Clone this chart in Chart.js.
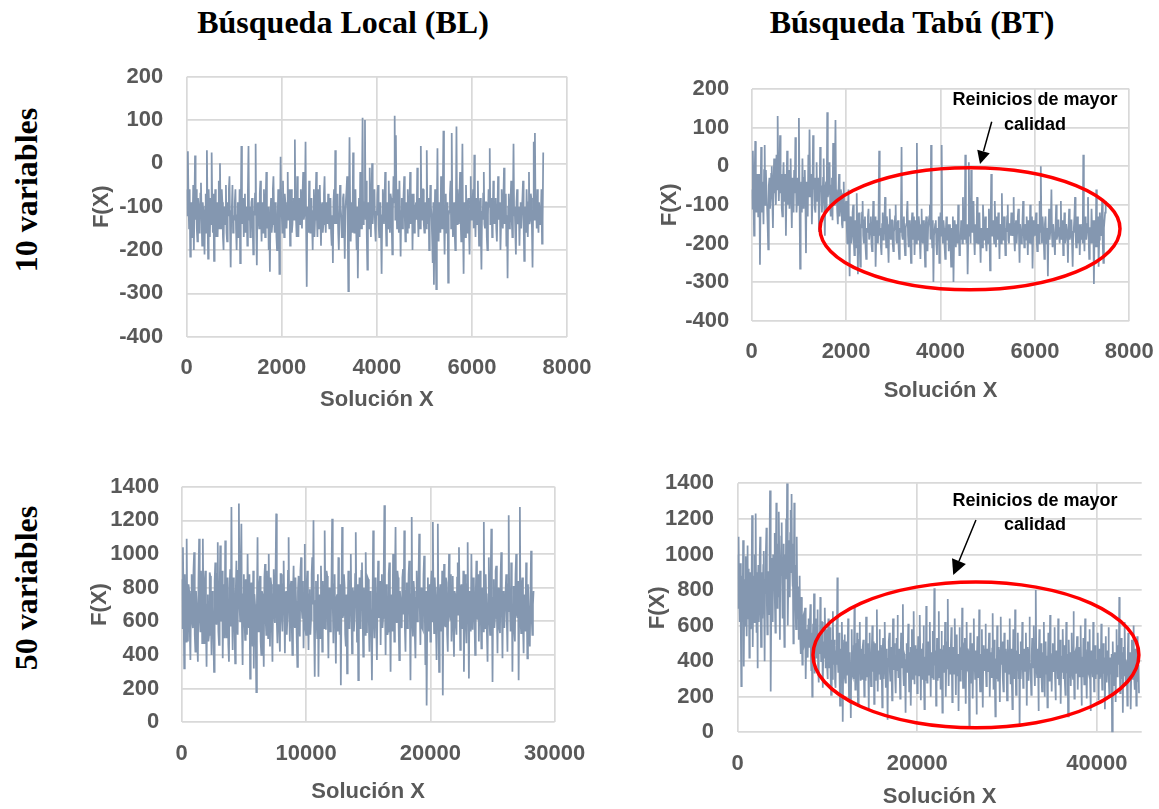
<!DOCTYPE html>
<html>
<head>
<meta charset="utf-8">
<script src="https://cdn.jsdelivr.net/npm/chart.js"></script>
<style>
  html, body { margin: 0; padding: 0; background: #fff; }
  body { position: relative; width: 1159px; height: 809px; overflow: hidden; }
  canvas { position: absolute; }
  .head { position: absolute; width: 400px; text-align: center; font: bold 32px/32px "Liberation Serif", "Times New Roman", serif; color: #000; white-space: nowrap; }
  .row { position: absolute; width: 220px; height: 32px; text-align: center; font: bold 32px/32px "Liberation Serif", "Times New Roman", serif; color: #000; white-space: nowrap; transform: rotate(-90deg); transform-origin: 50% 50%; }
</style>
</head>
<body>
<div class="head" style="left:143px; top:6px;">Búsqueda Local (BL)</div>
<div class="head" style="left:712px; top:6px;">Búsqueda Tabú (BT)</div>
<div class="row" style="left:-84px; top:174px;">10 variables</div>
<div class="row" style="left:-84px; top:572px;">50 variables</div>

<canvas id="bl10" width="530" height="370" style="left:70px; top:50px;"></canvas>
<canvas id="bt10" width="529" height="370" style="left:630px; top:50px;"></canvas>
<canvas id="bl50" width="530" height="359" style="left:70px; top:450px;"></canvas>
<canvas id="bt50" width="529" height="362" style="left:630px; top:450px;"></canvas>

<script>
// F(X) of each visited solution. Consecutive entries are STEP solutions apart.
const BL10_STEP = 12.5;
const bl10 = [
  -60,-120, 28,-90, -150,-60, -215,-140, -90,-170, -130,-50, -200,-110, 18,-130, -60,-150, -180,-80, -100,-160, -140,-70, -45,-120, -190,-90, -110,-150, -210,-100, -70,-160, 30,-110, -220,-60, -120,-170,
  -80,-140, 25,-100, -160,-70, -225,-130, -60,-170, -130,-90, -170,-110, -40,-150, 0,-120, -150,-60, -90,-170, -200,-100, -110,-140, -50,-160, -180,-90, -120,-60, -30,-150, -240,-110, -100,-50, -160,-120,
  -130,-90, -60,-150, -200,-120, -90,-170, -150,-60, -230,-110, 40,-140, -120,-80, -170,-130, -70,-160, -140,-100, -190,-60, 40,-130, -100,-170, -160,-90, -80,-140, -210,-110, -120,-70, 45,-150, -235,-100,
  -90,-130, -150,-70, -40,-120, -180,-90, -110,-160, -60,-130, -170,-80, -20,-150, -130,-100, -200,-140, -250,-110, -80,-160, -140,-60, -30,-120, -160,-90, -100,-170, -200,-130, -60,-100, -255,-140, 15,-80,
  -120,-160, -40,-110, -170,-70, -90,-140, -150,-100, -20,-130, -110,-60, -190,-120, -60,-160, -140,-90, -80,-130, 55,-100, -130,-170, -30,-110, -170,-80, -100,-140, -60,-120, -150,-70, -20,-130, -120,-90,
  50,-150, -285,-100, -120,-160, -40,-130, -160,-90, -80,-140, -200,-110, -60,-170, -130,-80, -20,-120, -170,-60, -110,-150, -50,-130, -190,-100, -90,-160, -140,-70, -30,-120, -160,-90, -100,-140, -70,-130,
  -150,-100, -80,-160, -190,-120, -230,-90, -60,-140, 30,-110, -140,-70, -100,-160, -200,-130, -50,-100, -120,-170, -170,-80, -70,-140, -220,-110, -110,-60, -30,-150, -295,-120, 60,-90, -180,-130, -90,-160,
  25,-120, -160,-80, -60,-140, -200,-100, -265,-130, -80,-170, -20,-110, -150,-60, 105,-140, -120,-90, 100,-130, -40,-160, -245,-100, -90,-150, -10,-120, -170,-70, 0,-140, -110,-80, -60,-150, -180,-110,
  -120,-70, -50,-140, -170,-100, -90,-160, -255,-120, -60,-110, -140,-80, -20,-130, -190,-90, -100,-150, -40,-120, -160,-70, -80,-140, -210,-110, -30,-90, 110,-130, 65,-100, -150,-60, -100,-160, -40,-120,
  -215,-110, -80,-150, -130,-70, -30,-120, -180,-90, -100,-160, -60,-130, -150,-90, -20,-140, -120,-70, -200,-110, -70,-160, -140,-100, -90,-130, -10,-120, -170,-80, -110,-150, 40,-100, -130,-60, -60,-140,
  -160,-110, -90,-150, 30,-120, -140,-80, -200,-130, -50,-100, -120,-170, -230,-90, -280,-140, -60,-180, -290,-110, 35,-150, -180,-90, -100,-160, -30,-120, -150,-70, 75,-130, -210,-100, -70,-160, -130,-90,
  -275,-120, -110,-70, -40,-150, 70,-100, -170,-130, -90,-160, -200,-110, 85,-140, -60,-120, -140,-80, -20,-130, -180,-100, 45,-150, -255,-90, -100,-170, -50,-120, -160,-90, -80,-150, -210,-110, -30,-130,
  -120,-90, -60,-150, 20,-110, -170,-80, -100,-140, -40,-120, -190,-100, -80,-160, -245,-110, -130,-70, -20,-140, -150,-90, -90,-170, -200,-120, -60,-100, 35,-140, -110,-80, -170,-130, -40,-110, -140,-90,
  -80,-150, -180,-110, -30,-130, -120,-90, -200,-140, -60,-120, -150,-80, -10,-140, -110,-70, -190,-120, -265,-100, -70,-150, -140,-90, -40,-130, -170,-100, 45,-120, -100,-160, -210,-90, -60,-140, -130,-100,
  -190,-120, -90,-150, -150,-80, -40,-130, -225,-100, -110,-160, -60,-120, -170,-90, -20,-140, -130,-70, -80,-150, -240,-110, 50,-130, 70,-100, -100,-150, -60,-120, -160,-90, -90,-140, -120,-60, -185,-130,
  25
];

const BT10_STEP = 12.5;
const bt10 = [
  -60,-110, 40,-70, -180,-30, 65,-90, -120,-40, -20,-130, -90,-20, -255,-80, 50,-120, -40,-70, -150,-10, 55,-100, -10,-60, -100,-150, -215,-50, -30,-110, -80,-20, 0,-90, -160,-40, 20,-70,
  -50,-100, 30,-60, 130,-20, -90,-30, 80,-70, -20,-110, -130,-40, 10,-90, -70,-20, -180,-60, 40,-100, -40,-10, -110,-50, 20,-80, -160,-30, -60,-120, -10,-70, 75,-40, -120,-80, -30,-100,
  125,-60, -265,-100, -40,-120, 20,-70, -110,-30, -10,-90, -225,-40, -60,-130, 30,-80, 95,-50, -80,-20, -150,-90, 80,-60, -30,-110, -120,-50, 10,-90, -70,-30, -170,-100, 50,-60, -50,-120,
  -90,-30, 20,-110, -180,-60, -40,-120, 140,-80, -70,-20, 10,-100, -130,-50, -30,-140, 60,-70, -100,-30, 120,-90, -60,-120, -150,-70, -20,-130, -110,-60, -70,-150, -160,-90, -40,-140, -130,-100,
  -90,-150, -200,-110, -60,-170, -285,-130, -140,-200, -180,-120, -100,-190, -230,-140, -150,-210, -70,-160, -280,-130, -120,-200, -260,-150, -160,-120, -90,-180, -200,-140, -130,-210, -240,-160, -170,-130, -110,-190,
  -190,-150, -130,-200, -220,-160, -90,-180, -170,-130, -260,-190, -140,-170, -200,-130, 40,-180, -160,-210, -230,-150, -120,-190, -180,-140, -80,-170, -210,-130, -150,-200, -250,-160, -110,-180, -190,-140, -140,-200,
  -220,-170, -160,-130, -100,-190, -200,-150, -140,-210, -240,-160, -170,-130, 50,-180, -190,-140, -130,-200, -230,-160, -150,-120, -90,-180, -210,-140, -170,-200, -250,-150, -120,-190, -180,-130, -230,-170, -140,-200,
  60,-160, -190,-130, -150,-200, -240,-170, -110,-190, -200,-140, -170,-210, -260,-150, -130,-180, -220,-160, -160,-130, -100,-190, 55,-170, -210,-140, -300,-180, -180,-150, -140,-200, -230,-160, -170,-130, -250,-190,
  -120,-180, 55,-160, -200,-140, -160,-210, -240,-170, -130,-190, -190,-150, -220,-170, -150,-200, -260,-160, -180,-130, -300,-190, -140,-170, -210,-150, -170,-200, -100,-160, -230,-180, -190,-140, -150,-200, -80,-170,
  -140,-190, 30,-160, -200,-150, -280,-180, 10,-140, -120,-200, -10,-160, -170,-130, -90,-190, -230,-150, -150,-200, -80,-170, -200,-140, -120,-190, -250,-160, -160,-210, -100,-150, -190,-170, -130,-200, -220,-160,
  -160,-200, -110,-170, -270,-150, -20,-180, -180,-140, -140,-200, -90,-160, -210,-130, -160,-190, -120,-170, -240,-150, -150,-200, -70,-160, -190,-140, -130,-180, -230,-160, -170,-130, -100,-190, -200,-150, -150,-180,
  -120,-170, -180,-140, -80,-190, -220,-160, -140,-200, -170,-130, -110,-180, -250,-150, -150,-200, -190,-140, -90,-170, -210,-150, -160,-190, -130,-170, -230,-140, -170,-200, -100,-160, -200,-130, -265,-180, -140,-160,
  -180,-140, -120,-190, -220,-160, -150,-200, -90,-170, 0,-150, -200,-130, -160,-190, -240,-150, -130,-200, -190,-160, -285,-170, -110,-190, -170,-140, -60,-180, -210,-150, -150,-200, -230,-160, -100,-190, -180,-140,
  -140,-180, -200,-160, -90,-190, -170,-140, -230,-170, -120,-200, -190,-150, -150,-180, -250,-160, -110,-190, -180,-140, -140,-200, -260,-170, -160,-130, -80,-180, -210,-160, -130,-200, -190,-150, -230,-170, -150,-190,
  -170,-200, 30,-160, -220,-140, -130,-190, -190,-150, -80,-180, -240,-160, -160,-200, -110,-170, -200,-140, -305,-180, -140,-210, -60,-160, -210,-130, -260,-190, -120,-170, -180,-140, -90,-200, -250,-160, -140,-120,
  -90
];

const BL50_STEP = 50;
const bl50 = [
  850,560, 1040,700, 320,880, 620,480, 1090,650, 480,820, 780,540, 370,760, 880,600, 560,910, 1010,520, 420,780, 700,480, 360,850, 1090,620, 540,900, 820,470, 1090,680, 470,830, 900,560,
  330,700, 760,480, 520,890, 870,600, 400,780, 690,520, 300,840, 950,620, 580,880, 1070,540, 460,760, 1050,600, 650,900, 380,720, 820,500, 1080,680, 500,860, 740,460, 360,790, 910,570,
  1280,640, 430,860, 800,560, 350,780, 960,620, 520,900, 1300,700, 600,940, 1180,560, 340,760, 880,620, 490,850, 740,520, 1000,680, 560,880, 260,720, 830,540, 450,900, 320,760, 700,520,
  180,700, 1100,540, 560,820, 870,480, 400,780, 760,600, 330,860, 940,620, 520,900, 680,500, 1000,700, 450,860, 820,560, 360,760, 910,640, 590,880, 1240,600, 470,820, 730,540, 420,880,
  880,620, 540,820, 960,700, 410,760, 780,520, 620,900, 1100,640, 480,800, 840,580, 400,760, 930,620, 560,860, 720,500, 330,780, 870,600, 510,900, 980,680, 620,840, 440,720, 1060,560,
  520,820, 900,640, 430,760, 790,520, 610,880, 980,700, 1200,560, 270,720, 840,600, 500,880, 270,660, 760,500, 930,720, 420,840, 680,560, 1140,760, 550,900, 870,620, 380,800, 740,540,
  600,860, 1210,700, 470,820, 880,580, 350,740, 760,540, 980,680, 520,820, 220,700, 1160,620, 640,880, 810,520, 450,760, 290,640, 900,560, 560,840, 1000,660, 410,800, 770,540, 620,880,
  1130,700, 480,820, 250,640, 860,560, 600,900, 950,680, 390,800, 720,520, 1010,740, 530,860, 850,600, 420,780, 680,540, 250,700, 1140,620, 500,860, 820,560, 370,760, 960,620, 640,840,
  460,760, 880,560, 620,900, 1290,680, 400,820, 790,520, 540,880, 950,640, 300,760, 720,540, 1000,700, 480,840, 1160,620, 590,900, 860,560, 370,780, 730,600, 560,860, 910,640, 1140,560,
  420,780, 830,560, 600,880, 960,640, 250,760, 1220,600, 510,840, 780,520, 380,740, 900,600, 650,860, 1120,680, 460,800, 740,560, 550,880, 990,660, 340,780, 100,620, 860,540, 620,820,
  480,820, 900,600, 1190,720, 530,860, 760,560, 370,800, 1180,640, 300,760, 820,540, 640,900, 160,700, 940,580, 570,860, 830,520, 420,760, 1000,640, 610,880, 480,720, 870,560, 390,780,
  760,580, 520,860, 950,640, 1040,720, 430,800, 820,560, 590,900, 300,740, 880,600, 470,820, 1070,660, 260,780, 740,540, 1000,700, 550,860, 830,600, 400,760, 960,640, 610,880, 480,720,
  900,640, 440,780, 800,540, 1190,700, 560,880, 710,520, 360,760, 980,620, 520,860, 1150,680, 240,740, 850,560, 620,900, 930,640, 410,800, 770,560, 530,880, 1010,660, 380,780, 690,560,
  560,780, 880,600, 420,820, 1230,660, 700,540, 950,760, 300,700, 810,560, 480,880, 1000,640, 620,840, 250,720, 1280,600, 530,820, 860,580, 410,760, 760,540, 950,700, 380,820, 680,560,
  450,760, 1020,620, 520,700, 780
];

const BT50_STEP = 50;
const bt50 = [
  1000,700, 1100,820, 620,900, 950,560, 260,740, 880,620, 1080,780, 370,860, 760,600, 990,720, 540,880, 1050,640, 680,920, 420,760, 900,580, 610,840, 1220,700, 480,880, 830,620, 1000,760,
  1230,800, 560,900, 360,740, 940,620, 720,980, 1100,760, 480,900, 860,640, 640,940, 1020,700, 400,860, 780,980, 1150,720, 550,900, 900,660, 700,1040, 1360,820, 230,760, 980,860, 620,1000,
  840,1000, 1120,780, 560,940, 1290,820, 700,1060, 1000,760, 1240,900, 520,980, 880,1100, 1180,840, 640,960, 1060,780, 480,1000, 960,860, 1200,940, 1400,1040, 600,900, 1080,800, 760,1120, 1250,900,
  1340,960, 820,1060, 500,880, 1290,760, 940,680, 580,900, 1100,640, 700,820, 520,720, 880,560, 440,680, 760,520, 380,640, 650,480, 490,620, 700,420, 300,560, 580,460, 420,600, 640,480,
  480,600, 720,430, 350,560, 200,480, 610,400, 780,520, 330,640, 560,420, 430,600, 690,380, 280,540, 540,440, 760,500, 400,620, 620,360, 250,500, 510,420, 700,560, 360,480, 580,380,
  300,480, 640,360, 450,540, 590,320, 210,440, 520,300, 680,420, 380,520, 490,280, 250,460, 610,380, 870,420, 340,500, 560,300, 150,420, 470,330, 620,480, 60,360, 430,520, 550,310,
  280,430, 510,320, 360,480, 640,350, 190,420, 450,280, 80,390, 580,330, 320,460, 490,300, 700,430, 240,500, 420,340, 560,270, 150,400, 380,520, 620,360, 290,450, 470,300, 350,480,
  520,350, 200,420, 440,290, 650,410, 310,500, 480,330, 130,440, 560,370, 380,260, 270,450, 600,340, 420,510, 160,390, 500,290, 340,470, 690,380, 230,420, 460,330, 580,440, 300,490,
  410,330, 140,460, 530,300, 360,480, 620,380, 250,430, 470,280, 70,400, 390,510, 560,340, 290,420, 480,310, 180,450, 640,370, 350,500, 440,290, 220,410, 530,350, 660,440, 310,390,
  470,320, 190,430, 560,360, 380,490, 720,330, 260,440, 430,300, 110,410, 500,350, 340,470, 610,390, 230,340, 450,480, 150,370, 580,300, 390,460, 680,380, 270,430, 490,320, 360,470,
  220,410, 540,330, 320,470, 660,380, 180,440, 470,300, 390,500, 600,350, 130,420, 420,290, 710,460, 280,390, 510,320, 360,450, 620,370, 200,430, 450,310, 570,410, 300,480, 810,390,
  380,460, 150,350, 530,420, 290,380, 680,310, 420,470, 240,360, 570,420, 110,330, 460,490, 340,380, 620,300, 200,440, 510,360, 750,420, 260,480, 440,330, 370,450, 590,380, 170,420,
  480,360, 330,450, 640,390, 210,470, 550,320, 400,440, 120,370, 590,310, 290,460, 470,350, 700,420, 250,380, 380,500, 530,330, 160,410, 620,360, 350,470, 450,300, 30,390, 560,440,
  280,410, 500,340, 190,450, 640,380, 370,300, 460,420, 100,360, 540,460, 310,390, 690,330, 230,440, 420,370, 580,310, 140,420, 490,350, 360,470, 610,390, 260,430, 470,340, 380,460,
  560,370, 200,420, 450,310, 330,470, 670,390, 240,440, 520,340, 90,410, 410,300, 600,450, 290,380, 480,330, 170,460, 650,380, 380,430, 510,310, 230,420, 560,360, 340,470, 440,350,
  180,400, 520,330, 390,460, 640,370, 270,420, 470,310, 130,390, 580,440, 350,300, 690,410, 210,460, 440,350, 560,400, 300,440, 30,370, 510,300, 400,450, 620,390, 250,420, 470,340,
  340,440, 560,380, 150,420, 480,330, 290,470, 650,390, 380,300, 210,430, 530,360, 420,470, 600,340, 260,410, 800,450, 350,310, 470,420, 120,380, 580,440, 310,360, 500,300, 230,420,
  450,340, 620,410, 200,460, 510,330, 370,430, 140,380, 560,300, 290,450, 660,390, 410,320, 230,440, 500,360, 340,470, 590,310, 180,420, 460,370, 380,300, 640,440, 270,390, 520,350,
  160,410, 430,340, 580,460, 300,380, 490,300, 210,420, 620,350, 360,440, 90,380, 520,310, 400,450, 260,370, 560,420, 330,300, 680,410, 190,440, 450,330, 370,460, 540,360, 240,420,
  480,360, 310,440, 600,390, 150,420, 420,310, 530,370, 270,450, 640,330, 380,400, 190,460, 510,340, 330,420, 580,300, 120,380, 460,440, 350,310, 620,400, 230,450, 490,350, 300,410,
  410,330, 560,390, 180,440, 470,300, 320,410, 610,360, 240,460, 500,330, 370,420, 130,380, 540,300, 280,450, 460,370, 590,310, 200,400, 420,350, 330,440, 0,360, 510,300, 260,420,
  450,360, 170,410, 580,330, 310,460, 490,380, 760,420, 220,340, 530,300, 350,450, 110,390, 480,320, 620,410, 260,370, 400,300, 150,440, 560,350, 300,420, 450,330, 130,380, 520,300,
  380,440, 600,330, 240,410, 470,360, 150,420, 540,300, 310,380, 220
];

// Axis ranges [min, max] and tick values
const BL10_X = [0, 8000], BL10_XTICKS = [0, 2000, 4000, 6000, 8000];
const BL10_Y = [-400, 200], BL10_YTICKS = [-400, -300, -200, -100, 0, 100, 200];
const BT10_X = [0, 8000], BT10_XTICKS = [0, 2000, 4000, 6000, 8000];
const BT10_Y = [-400, 200], BT10_YTICKS = [-400, -300, -200, -100, 0, 100, 200];
const BL50_X = [0, 30000], BL50_XTICKS = [0, 10000, 20000, 30000];
const BL50_Y = [0, 1400], BL50_YTICKS = [0, 200, 400, 600, 800, 1000, 1200, 1400];
const BT50_X = [0, 45000], BT50_XTICKS = [0, 20000, 40000];
const BT50_Y = [0, 1400], BT50_YTICKS = [0, 200, 400, 600, 800, 1000, 1200, 1400];

const X_TITLE = 'Solución X';
const Y_TITLE = 'F(X)';
const NOTE_LINES = ['Reinicios de mayor', 'calidad'];

// ---- styling ----
const SANS = '"Liberation Sans", Arial, sans-serif';
const AXIS_FONT = { family: SANS, size: 22, weight: 'bold', lineHeight: 1.2 };
const TEXT_COLOR = '#595959';
const GRID_COLOR = '#d9d9d9';
const LINE_COLOR = '#8497b0';

// Annotation: ellipse around the restart region, an arrow and a caption (data units)
function notePlugin(note) {
  return {
    id: 'restartNote',
    afterDatasetsDraw(chart) {
      const { ctx, scales: { x, y } } = chart;
      const px = v => x.getPixelForValue(v);
      const py = v => y.getPixelForValue(v);
      ctx.save();
      const cx = px(note.ellipse[0]), cy = py(note.ellipse[1]);
      const rx = Math.abs(px(note.ellipse[0] + note.ellipse[2]) - cx);
      const ry = Math.abs(py(note.ellipse[1] + note.ellipse[3]) - cy);
      ctx.beginPath();
      ctx.ellipse(cx, cy, rx, ry, 0, 0, Math.PI * 2);
      ctx.strokeStyle = '#ff0000';
      ctx.lineWidth = 3.5;
      ctx.stroke();
      const x1 = px(note.arrow[0]), y1 = py(note.arrow[1]);
      const x2 = px(note.arrow[2]), y2 = py(note.arrow[3]);
      const ang = Math.atan2(y2 - y1, x2 - x1);
      const headLen = note.head[0], headHalf = note.head[1];
      const bx = x2 - headLen * Math.cos(ang), by = y2 - headLen * Math.sin(ang);
      ctx.beginPath();
      ctx.moveTo(x1, y1);
      ctx.lineTo(bx, by);
      ctx.strokeStyle = '#000';
      ctx.lineWidth = 1.5;
      ctx.stroke();
      ctx.beginPath();
      ctx.moveTo(x2, y2);
      ctx.lineTo(bx + headHalf * Math.sin(ang), by - headHalf * Math.cos(ang));
      ctx.lineTo(bx - headHalf * Math.sin(ang), by + headHalf * Math.cos(ang));
      ctx.closePath();
      ctx.fillStyle = '#000';
      ctx.fill();
      ctx.font = 'bold 18px ' + SANS;
      ctx.fillStyle = '#000';
      ctx.textAlign = 'center';
      ctx.textBaseline = 'middle';
      NOTE_LINES.forEach((t, i) => ctx.fillText(t, px(note.text[0]), py(note.text[1 + i])));
      ctx.restore();
    }
  };
}

// geo: canvas box [left, top, width, height], plot area [left, top, right, bottom],
// x title centre y, y title centre x, tick paddings — all in page pixels
function panel(id, values, step, xr, xticks, yr, yticks, geo, note) {
  const [cl, ct, cw, ch] = geo.canvas;
  const [al, at, ar, ab] = geo.area;
  const lh = AXIS_FONT.size * AXIS_FONT.lineHeight;
  const yW = al - cl;
  const xH = geo.xTitleY + lh / 2 - ab;
  const pad = { left: 0, top: at - ct, right: cl + cw - ar, bottom: ct + ch - ab - xH };
  const points = values.map((v, i) => ({ x: i * step, y: v }));
  return new Chart(document.getElementById(id), {
    type: 'line',
    data: { datasets: [{ data: points, borderColor: LINE_COLOR, borderWidth: 1.75, pointRadius: 0, tension: 0, fill: false }] },
    options: {
      responsive: false, animation: false, devicePixelRatio: 1,
      layout: { padding: pad },
      plugins: { legend: { display: false }, tooltip: { enabled: false } },
      scales: {
        x: {
          type: 'linear', min: xr[0], max: xr[1],
          afterBuildTicks(s) { s.ticks = xticks.map(v => ({ value: v })); },
          ticks: { autoSkip: false, maxRotation: 0, font: AXIS_FONT, color: TEXT_COLOR, padding: geo.xTickPad, callback: v => String(v) },
          grid: { color: GRID_COLOR, lineWidth: 1.7, drawTicks: false },
          border: { display: false },
          title: { display: true, text: X_TITLE, font: AXIS_FONT, color: TEXT_COLOR, padding: 0 },
          afterFit(s) { s.height = xH; s.paddingLeft = 0; s.paddingRight = 0; }
        },
        y: {
          type: 'linear', min: yr[0], max: yr[1],
          afterBuildTicks(s) { s.ticks = yticks.map(v => ({ value: v })); },
          ticks: { autoSkip: false, font: AXIS_FONT, color: TEXT_COLOR, padding: geo.yTickPad, callback: v => String(v) },
          grid: { color: GRID_COLOR, lineWidth: 1.7, drawTicks: false },
          border: { display: false },
          title: { display: true, text: Y_TITLE, font: AXIS_FONT, color: TEXT_COLOR, padding: { top: geo.yTitleX - cl - lh / 2, bottom: 0 } },
          afterFit(s) { s.width = yW; s.paddingTop = 0; s.paddingBottom = 0; }
        }
      }
    },
    plugins: note ? [notePlugin(note)] : []
  });
}

panel('bl10', bl10, BL10_STEP, BL10_X, BL10_XTICKS, BL10_Y, BL10_YTICKS, {
  canvas: [70, 50, 530, 370], area: [186.7, 76.7, 567, 336.7],
  xTitleY: 400, yTitleX: 102, xTickPad: 18.5, yTickPad: 23.4
});

panel('bt10', bt10, BT10_STEP, BT10_X, BT10_XTICKS, BT10_Y, BT10_YTICKS, {
  canvas: [630, 50, 529, 370], area: [751.7, 89, 1129.3, 320.7],
  xTitleY: 390.7, yTitleX: 670, xTickPad: 18.5, yTickPad: 22.4
}, {
  ellipse: [4625, -162, 3178, 158],
  arrow: [5085, 115, 4837, 6],
  head: [13, 6.5],
  text: [6002, 171.5, 106.8]
});

panel('bl50', bl50, BL50_STEP, BL50_X, BL50_XTICKS, BL50_Y, BL50_YTICKS, {
  canvas: [70, 450, 530, 359], area: [181.7, 486.7, 554.7, 722.3],
  xTitleY: 791.7, yTitleX: 100, xTickPad: 18.5, yTickPad: 22.4
});

panel('bt50', bt50, BT50_STEP, BT50_X, BT50_XTICKS, BT50_Y, BT50_YTICKS, {
  canvas: [630, 450, 529, 362], area: [737.7, 483.3, 1141.7, 732.3],
  xTitleY: 796.7, yTitleX: 658.3, xTickPad: 18.5, yTickPad: 23.7
}, {
  ellipse: [26537, 435, 18151, 410],
  arrow: [26537, 1194, 24009, 884],
  head: [15, 7.5],
  text: [33107, 1302, 1165]
});
</script>
</body>
</html>
